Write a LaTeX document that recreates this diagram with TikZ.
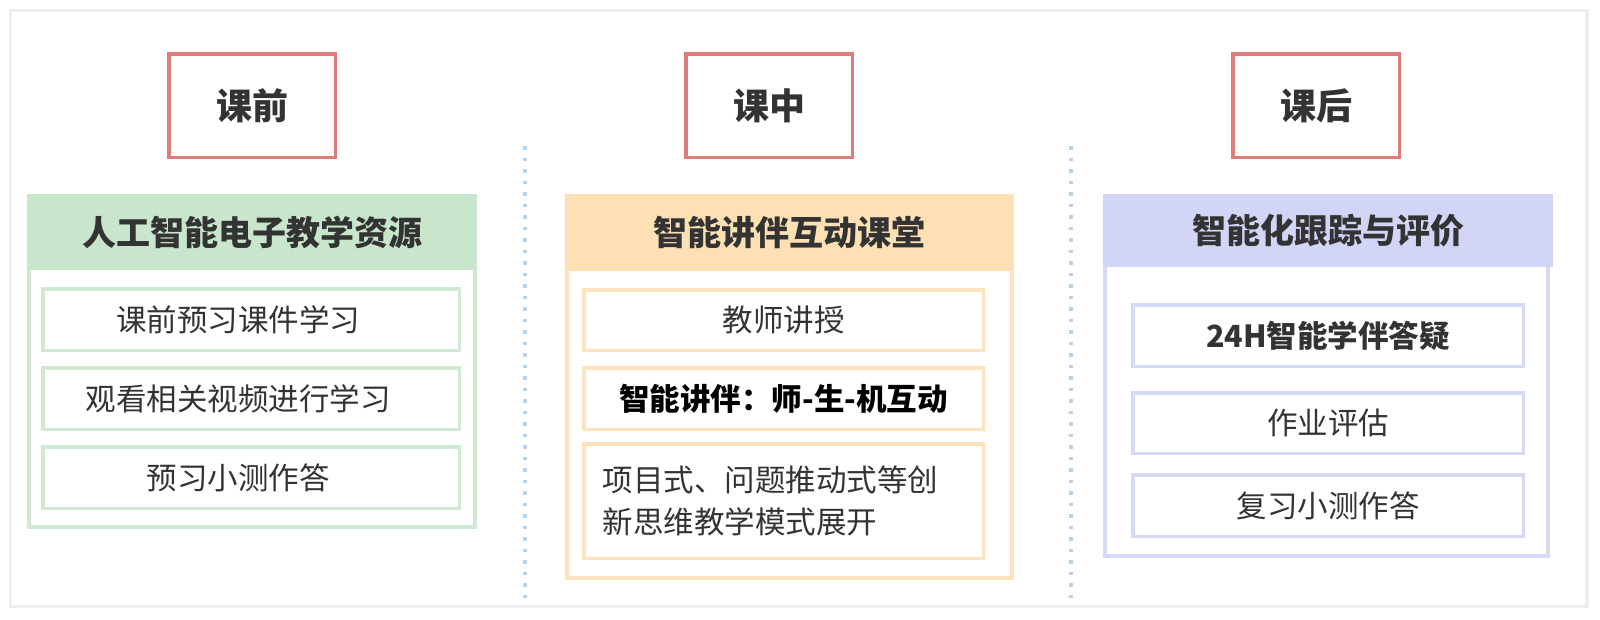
\documentclass[tikz,border=0pt]{standalone}
\usepackage{fontspec}
\setmainfont{Noto Sans CJK SC}
\usetikzlibrary{positioning}
\definecolor{redline}{HTML}{E07B79}
\definecolor{greenfill}{HTML}{C8E6CB}
\definecolor{greenline}{HTML}{CFE9D2}
\definecolor{orangefill}{HTML}{FDE0B4}
\definecolor{orangeline}{HTML}{FCE3BE}
\definecolor{purplefill}{HTML}{D2D5F6}
\definecolor{purpleline}{HTML}{D6D9F6}
\definecolor{dotblue}{HTML}{B4D4EC}
\definecolor{framegray}{HTML}{EEEEEE}
\definecolor{txtgray}{HTML}{333333}
\newcommand\fsz[1]{\fontsize{#1pt}{#1pt}\selectfont}

\begin{document}
\begin{tikzpicture}[x=1pt,y=-1pt,
  phase/.style={draw=redline,line width=3.5pt,minimum width=166.5pt,minimum height=103.5pt,
    inner sep=0,text=txtgray,font=\fsz{36}\bfseries},
  head/.style={fill=#1,minimum height=76pt,inner sep=0,text=txtgray,font=\fsz{34}\bfseries},
  body/.style={draw=#1,line width=4pt,inner sep=0},
  entry/.style={draw=#1,line width=3.5pt,inner sep=0,text=txtgray,font=\fsz{30.5}},
  entrytext/.style={inner sep=0,text=txtgray,font=\fsz{30.5}}]
\useasboundingbox (0,0) rectangle (1600,619);
\draw[framegray,line width=3.5pt] (10.5,10.5) rectangle (1587,606.5);
% ---------- dotted separators ----------
\draw[dotblue,line width=3.5pt,dash pattern=on 3.5pt off 8pt] (525,146) -- (525,598);
\draw[dotblue,line width=3.5pt,dash pattern=on 3.5pt off 8pt] (1071,146) -- (1071,598);
% ---------- before class ----------
\node[phase] (pre) at (252,105.5) {课前};
\node[body=greenline,minimum width=446pt,minimum height=331pt] (preBox) at (252,361.5) {};
\node[head=greenfill,minimum width=450pt] (preHead) at (252,232) {人工智能电子教学资源};
\node[entry=greenline,minimum width=416.5pt,minimum height=61.5pt,
  label={[entrytext,xshift=-13pt]center:课前预习课件学习}] (preA) at (251,319.5) {};
\node[entry=greenline,minimum width=416.5pt,minimum height=61.5pt,
  label={[entrytext,xshift=-13pt]center:观看相关视频进行学习}] (preB) at (251,398.5) {};
\node[entry=greenline,minimum width=416.5pt,minimum height=61.5pt,
  label={[entrytext,xshift=-13pt]center:预习小测作答}] (preC) at (251,477.5) {};
% ---------- in class ----------
\node[phase] (mid) at (769,105.5) {课中};
\node[body=orangeline,minimum width=445pt,minimum height=382pt] (midBox) at (789.5,387) {};
\node[head=orangefill,minimum width=449pt,minimum height=77pt] (midHead) at (789.5,232.5) {智能讲伴互动课堂};
\node[entry=orangeline,minimum width=399.5pt,minimum height=60.5pt] (midA) at (783.5,320) {教师讲授};
\node[entry=orangeline,minimum width=399.5pt,minimum height=61.5pt,text=black,font=\fsz{30.5}\bfseries]
  (midB) at (783.5,398.5) {智能讲伴：师-生-机互动};
\node[entry=orangeline,minimum width=399.5pt,minimum height=114.5pt,text width=362pt,align=left,
  font=\fontsize{30.5pt}{42pt}\selectfont] (midC) at (783.5,501) {项目式、问题推动式等创\\新思维教学模式展开};
% ---------- after class ----------
\node[phase] (post) at (1316,105.5) {课后};
\node[body=purpleline,minimum width=443pt,minimum height=360pt] (postBox) at (1326.5,376) {};
\node[head=purplefill,minimum width=450pt,minimum height=73pt] (postHead) at (1328,230.5) {智能化跟踪与评价};
\node[entry=purpleline,minimum width=390.5pt,minimum height=61.5pt,font=\fsz{30.5}\bfseries]
  (postA) at (1328,335.5) {24H智能学伴答疑};
\node[entry=purpleline,minimum width=390.5pt,minimum height=60.5pt] (postB) at (1328,423) {作业评估};
\node[entry=purpleline,minimum width=390.5pt,minimum height=61.5pt] (postC) at (1328,505.5) {复习小测作答};
\end{tikzpicture}
\end{document}
